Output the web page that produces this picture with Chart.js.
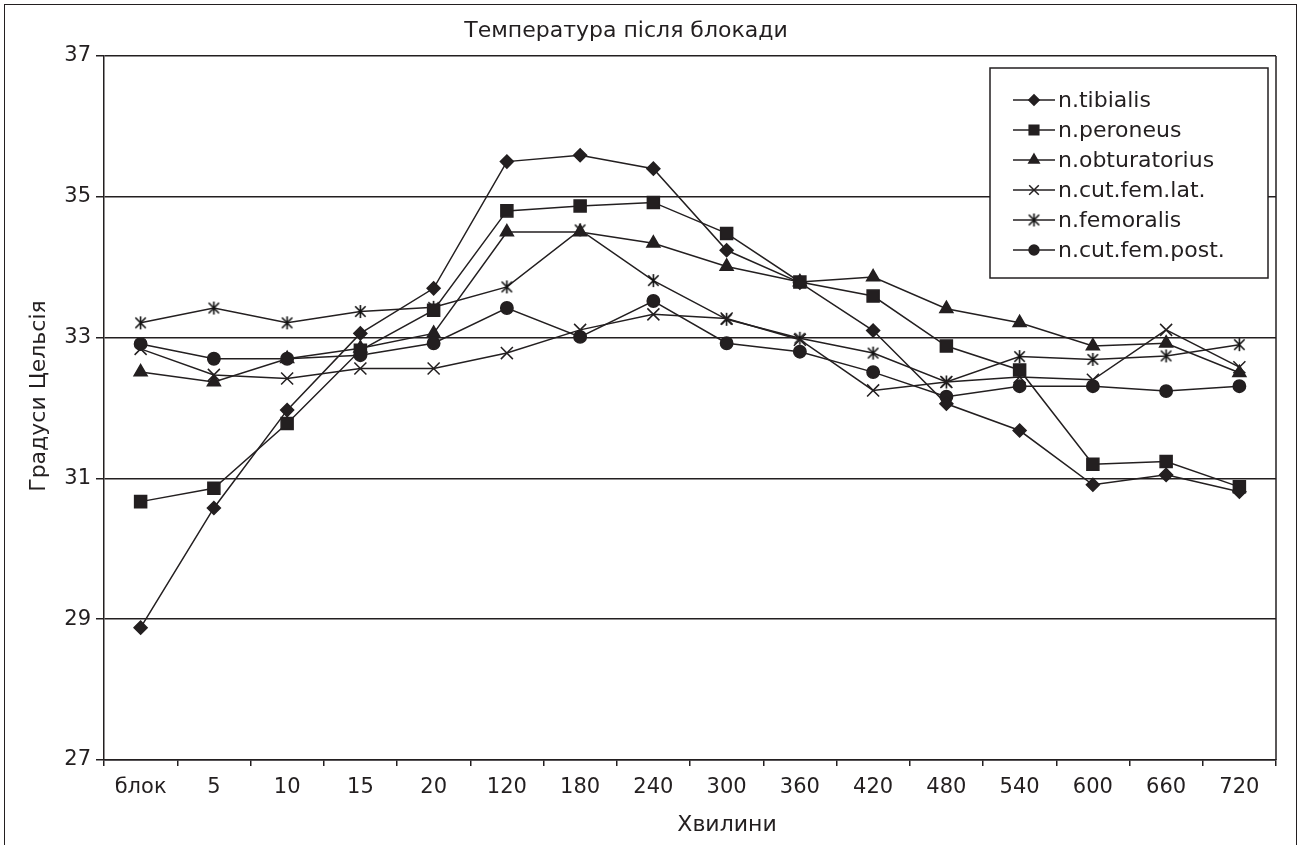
<!DOCTYPE html>
<html>
<head>
<meta charset="utf-8">
<title>Температура після блокади</title>
<script src="https://cdn.jsdelivr.net/npm/chart.js"></script>
<style>
    html, body { margin: 0; padding: 0; background: #fff; overflow: hidden; }
    #wrap { position: relative; width: 1303px; height: 845px; }
    #frame { position: absolute; left: 4px; top: 4px; width: 1293px; height: 870px;
             border: 1.5px solid #231f20; box-sizing: border-box; pointer-events: none; }
    canvas { position: absolute; left: 0; top: 0; }
</style>
</head>
<body>
<div id="wrap">
    <canvas id="tempChart" width="1303" height="845"></canvas>
    <div id="frame"></div>
</div>
<script>
const INK = '#231f20';
const FONT = "'DejaVu Sans', 'Liberation Sans', Arial, sans-serif";

// Data
const minutes = ['блок', '5', '10', '15', '20', '120', '180', '240', '300', '360', '420', '480', '540', '600', '660', '720'];
const tibialis     = [28.88, 30.58, 31.97, 33.06, 33.70, 35.50, 35.59, 35.40, 34.24, 33.78, 33.10, 32.06, 31.68, 30.91, 31.05, 30.81];
const peroneus     = [30.67, 30.86, 31.78, 32.82, 33.39, 34.80, 34.87, 34.92, 34.48, 33.79, 33.59, 32.88, 32.54, 31.20, 31.24, 30.88];
const obturatorius = [32.51, 32.37, 32.70, 32.85, 33.06, 34.50, 34.50, 34.34, 34.01, 33.79, 33.86, 33.41, 33.21, 32.88, 32.92, 32.50];
const cutFemLat    = [32.84, 32.47, 32.42, 32.56, 32.56, 32.78, 33.11, 33.33, 33.27, 32.97, 32.25, 32.37, 32.44, 32.40, 33.11, 32.58];
const femoralis    = [33.21, 33.42, 33.21, 33.37, 33.43, 33.72, 34.53, 33.81, 33.26, 32.99, 32.78, 32.37, 32.73, 32.69, 32.74, 32.90];
const cutFemPost   = [32.91, 32.70, 32.70, 32.75, 32.92, 33.42, 33.01, 33.52, 32.92, 32.80, 32.51, 32.16, 32.31, 32.31, 32.24, 32.31];
const yTicks = [27, 29, 31, 33, 35, 37];

// asterisk marker: X with a vertical bar
function asterisk(size) {
    const c = document.createElement('canvas');
    c.width = size; c.height = size;
    const g = c.getContext('2d');
    const m = size / 2, r = size / 2 - 1, d = r * 0.8;
    g.strokeStyle = '#111';
    g.lineWidth = 1.6;
    g.beginPath();
    g.moveTo(m, m - r); g.lineTo(m, m + r);
    g.moveTo(m - d, m - d); g.lineTo(m + d, m + d);
    g.moveTo(m + d, m - d); g.lineTo(m - d, m + d);
    g.stroke();
    return c;
}

function series(label, data, pointStyle, radius) {
    return {
        label: label,
        data: data,
        borderColor: INK,
        backgroundColor: INK,
        borderWidth: 1.5,
        pointStyle: pointStyle,
        pointRadius: radius,
        pointHoverRadius: radius,
        pointBorderWidth: 1.5,
        tension: 0,
        fill: false
    };
}

// plot frame (right edge), chart title and axis titles
const decorations = {
    id: 'decorations',
    beforeDatasetsDraw(chart) {
        const { ctx, chartArea: a } = chart;
        ctx.save();
        ctx.strokeStyle = INK;
        ctx.lineWidth = 1.5;
        ctx.beginPath();
        ctx.moveTo(a.right, a.top);
        ctx.lineTo(a.right, a.bottom);
        ctx.stroke();
        ctx.restore();
    },
    afterDraw(chart) {
        const ctx = chart.ctx;
        ctx.save();
        ctx.fillStyle = INK;
        ctx.font = `22px ${FONT}`;
        ctx.textAlign = 'center';
        ctx.textBaseline = 'alphabetic';
        ctx.fillText('Температура після блокади', 626, 37);
        ctx.fillText('Хвилини', 727, 831);
        ctx.translate(45, 396);
        ctx.rotate(-Math.PI / 2);
        ctx.fillText('Градуси Цельсія', 0, 0);
        ctx.restore();
    }
};

// Excel-style legend box inside the plot
const legendBox = {
    id: 'legendBox',
    afterDatasetsDraw(chart) {
        const ctx = chart.ctx;
        const x0 = 990, y0 = 68, x1 = 1268, y1 = 278;
        ctx.save();
        ctx.fillStyle = '#fff';
        ctx.fillRect(x0, y0, x1 - x0, y1 - y0);
        ctx.strokeStyle = INK;
        ctx.lineWidth = 1.5;
        ctx.strokeRect(x0, y0, x1 - x0, y1 - y0);
        ctx.font = `22px ${FONT}`;
        ctx.textBaseline = 'middle';
        chart.data.datasets.forEach((ds, i) => {
            const y = 100 + i * 30;
            ctx.strokeStyle = INK;
            ctx.lineWidth = 1.5;
            ctx.beginPath();
            ctx.moveTo(1013, y);
            ctx.lineTo(1055, y);
            ctx.stroke();
            ctx.fillStyle = INK;
            Chart.helpers.drawPoint(ctx, {
                pointStyle: ds.pointStyle,
                radius: ds.pointRadius * 0.8,
                rotation: 0,
                borderWidth: 1.5
            }, 1034, y);
            ctx.fillStyle = INK;
            ctx.fillText(ds.label, 1058, y + 1);
        });
        ctx.restore();
    }
};

const ctx = document.getElementById('tempChart').getContext('2d');
new Chart(ctx, {
    type: 'line',
    data: {
        labels: minutes,
        datasets: [
            series('n.tibialis', tibialis, 'rectRot', 6.5),
            series('n.peroneus', peroneus, 'rect', 8.5),
            series('n.obturatorius', obturatorius, 'triangle', 7.5),
            series('n.cut.fem.lat.', cutFemLat, 'crossRot', 8.5),
            series('n.femoralis', femoralis, asterisk(15), 7),
            series('n.cut.fem.post.', cutFemPost, 'circle', 6.2)
        ]
    },
    options: {
        responsive: false,
        animation: false,
        layout: { padding: { top: 56, right: 27, left: 0, bottom: 0 } },
        plugins: {
            legend: { display: false },
            title: { display: false },
            tooltip: { enabled: false }
        },
        scales: {
            x: {
                offset: true,
                afterFit: (scale) => { scale.height = 85; },
                grid: { display: true, drawOnChartArea: false, drawTicks: true, tickLength: 6, color: INK, lineWidth: 1.5, offset: true },
                border: { display: true, color: INK, width: 1.5 },
                ticks: { color: INK, font: { family: FONT, size: 21 }, padding: 9, maxRotation: 0, autoSkip: false }
            },
            y: {
                min: 27,
                max: 37,
                afterBuildTicks: (scale) => { scale.ticks = yTicks.map(v => ({ value: v })); },
                afterFit: (scale) => { scale.width = 104; },
                grid: { color: INK, lineWidth: 1.5, drawTicks: true, tickLength: 8 },
                border: { display: true, color: INK, width: 1.5 },
                ticks: { color: INK, font: { family: FONT, size: 21 }, padding: 5 }
            }
        }
    },
    plugins: [decorations, legendBox]
});
</script>
</body>
</html>
